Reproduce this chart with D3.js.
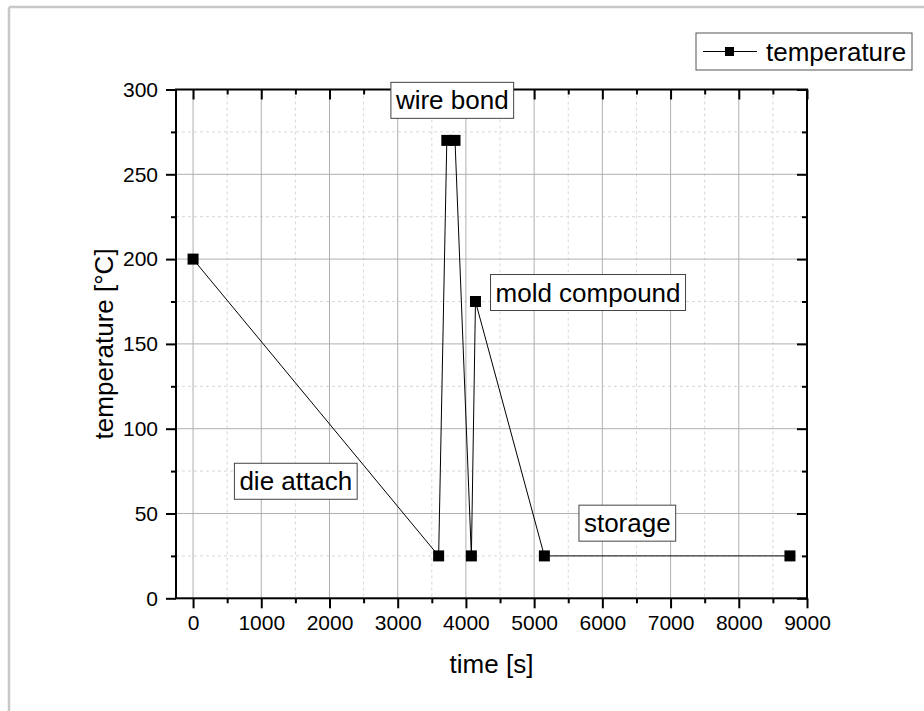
<!DOCTYPE html>
<html>
<head>
    <title></title>
    <meta charset="utf-8">
    <style>
        body { margin: 0; background: #fff; }
        text { font-family: "Liberation Sans", Arial, sans-serif; fill: #000; }
    </style>
</head>
<body>
<script src="https://d3js.org/d3.v7.min.js"></script>
<script>
    // data
    var times = [0, 3600, 3720, 3840, 4080, 4140, 5150, 8750];
    var temps = [200, 25, 270, 270, 25, 175, 25, 25];

    var xMajor = [0, 1000, 2000, 3000, 4000, 5000, 6000, 7000, 8000, 9000];
    var xMinor = [500, 1500, 2500, 3500, 4500, 5500, 6500, 7500, 8500];
    var yMajor = [0, 50, 100, 150, 200, 250, 300];
    var yMinor = [25, 75, 125, 175, 225, 275];

    // annotation labels, anchored at data coordinates
    var noteText = ['wire bond', 'mold compound', 'die attach', 'storage'];
    var noteX = [3800, 5790, 1506, 6366];
    var noteY = [293.6, 180.3, 69, 44.3];

    var width = 924, height = 711;
    // plot area edges (note: "top" is a reserved window property, so prefixed names)
    var pLeft = 176, pRight = 807, pTop = 89.5, pBottom = 598.3;

    var svg = d3.select('body').append('svg')
        .attr('width', width)
        .attr('height', height);

    // light gray page frame (top and left edges only)
    svg.append('line').attr('x1', 9).attr('y1', 7).attr('x2', width).attr('y2', 7)
        .style('stroke', '#c8c8c8').style('stroke-width', 2.5);
    svg.append('line').attr('x1', 9).attr('y1', 7).attr('x2', 9).attr('y2', height)
        .style('stroke', '#c8c8c8').style('stroke-width', 2.5);

    var x = d3.scaleLinear().domain([-250, 9000]).range([pLeft, pRight]);
    var y = d3.scaleLinear().domain([0, 300]).range([pBottom, pTop]);

    // grid: minor dashed, major solid
    var grid = svg.append('g');
    grid.selectAll('.gxm').data(xMinor).enter().append('line')
        .attr('x1', function (d) { return x(d); }).attr('x2', function (d) { return x(d); })
        .attr('y1', pTop).attr('y2', pBottom)
        .style('stroke', '#d8d8d8').style('stroke-dasharray', '3,3');
    grid.selectAll('.gym').data(yMinor).enter().append('line')
        .attr('y1', function (d) { return y(d); }).attr('y2', function (d) { return y(d); })
        .attr('x1', pLeft).attr('x2', pRight)
        .style('stroke', '#d8d8d8').style('stroke-dasharray', '3,3');
    grid.selectAll('.gx').data(xMajor.slice(0, -1)).enter().append('line')
        .attr('x1', function (d) { return x(d); }).attr('x2', function (d) { return x(d); })
        .attr('y1', pTop).attr('y2', pBottom)
        .style('stroke', '#b0b0b0');
    grid.selectAll('.gy').data(yMajor.slice(1, -1)).enter().append('line')
        .attr('y1', function (d) { return y(d); }).attr('y2', function (d) { return y(d); })
        .attr('x1', pLeft).attr('x2', pRight)
        .style('stroke', '#b0b0b0');

    // axes: outward ticks bottom/left, inward ticks top/right
    function styleAxis(g) {
        g.select('.domain').remove();
        g.selectAll('.tick line').style('stroke', '#000').style('stroke-width', 2);
        g.selectAll('.tick text').style('font-size', '21px')
            .style('font-family', '"Liberation Sans", Arial, sans-serif');
    }

    svg.append('g').attr('transform', 'translate(0,' + pBottom + ')')
        .call(d3.axisBottom(x).tickValues(xMajor).tickSize(10).tickPadding(7).tickFormat(d3.format('d')))
        .call(styleAxis);
    svg.append('g').attr('transform', 'translate(0,' + pBottom + ')')
        .call(d3.axisBottom(x).tickValues(xMinor).tickSize(5).tickFormat(''))
        .call(styleAxis);
    svg.append('g').attr('transform', 'translate(' + pLeft + ',0)')
        .call(d3.axisLeft(y).tickValues(yMajor).tickSize(10).tickPadding(8))
        .call(styleAxis);
    svg.append('g').attr('transform', 'translate(' + pLeft + ',0)')
        .call(d3.axisLeft(y).tickValues(yMinor).tickSize(5).tickFormat(''))
        .call(styleAxis);
    svg.append('g').attr('transform', 'translate(0,' + pTop + ')')
        .call(d3.axisTop(x).tickValues(xMajor).tickSize(-10).tickFormat(''))
        .call(styleAxis);
    svg.append('g').attr('transform', 'translate(0,' + pTop + ')')
        .call(d3.axisTop(x).tickValues(xMinor).tickSize(-5).tickFormat(''))
        .call(styleAxis);
    svg.append('g').attr('transform', 'translate(' + pRight + ',0)')
        .call(d3.axisRight(y).tickValues(yMajor).tickSize(-10).tickFormat(''))
        .call(styleAxis);
    svg.append('g').attr('transform', 'translate(' + pRight + ',0)')
        .call(d3.axisRight(y).tickValues(yMinor).tickSize(-5).tickFormat(''))
        .call(styleAxis);

    // thick frame round the plot
    svg.append('rect')
        .attr('x', pLeft).attr('y', pTop)
        .attr('width', pRight - pLeft).attr('height', pBottom - pTop)
        .style('fill', 'none').style('stroke', '#000').style('stroke-width', 2);

    // series
    var pts = times.map(function (t, i) { return [t, temps[i]]; });
    var line = d3.line().x(function (d) { return x(d[0]); }).y(function (d) { return y(d[1]); });
    svg.append('path').datum(pts).attr('d', line)
        .style('fill', 'none').style('stroke', '#000').style('stroke-width', 1);
    svg.selectAll('.pt').data(pts).enter().append('rect')
        .attr('x', function (d) { return x(d[0]) - 5.5; })
        .attr('y', function (d) { return y(d[1]) - 5.5; })
        .attr('width', 11).attr('height', 11)
        .style('fill', '#000');

    // annotation boxes
    noteText.forEach(function (s, i) {
        var g = svg.append('g');
        var box = g.append('rect');
        var t = g.append('text')
            .attr('x', x(noteX[i])).attr('y', y(noteY[i]) + 9)
            .attr('text-anchor', 'middle')
            .style('font-size', '26px')
            .text(s);
        var w = t.node().getComputedTextLength();
        box.attr('x', x(noteX[i]) - w / 2 - 5).attr('y', y(noteY[i]) - 18)
            .attr('width', w + 10).attr('height', 36)
            .style('fill', '#fff').style('stroke', '#444').style('stroke-width', 1);
    });

    // legend
    var lg = svg.append('g');
    lg.append('rect').attr('x', 696).attr('y', 33).attr('width', 216).attr('height', 37)
        .style('fill', '#fff').style('stroke', '#555').style('stroke-width', 1);
    lg.append('line').attr('x1', 703).attr('x2', 757).attr('y1', 51.5).attr('y2', 51.5)
        .style('stroke', '#000');
    lg.append('rect').attr('x', 725).attr('y', 47).attr('width', 9).attr('height', 9)
        .style('fill', '#000');
    lg.append('text').attr('x', 766).attr('y', 60.5)
        .style('font-size', '26px').text('temperature');

    // axis titles
    svg.append('text').attr('x', (pLeft + pRight) / 2).attr('y', 673)
        .attr('text-anchor', 'middle').style('font-size', '26px').text('time [s]');
    svg.append('text')
        .attr('transform', 'translate(113,' + (pTop + pBottom) / 2 + ') rotate(-90)')
        .attr('text-anchor', 'middle').style('font-size', '26px').text('temperature [°C]');
</script>
</body>
</html>
